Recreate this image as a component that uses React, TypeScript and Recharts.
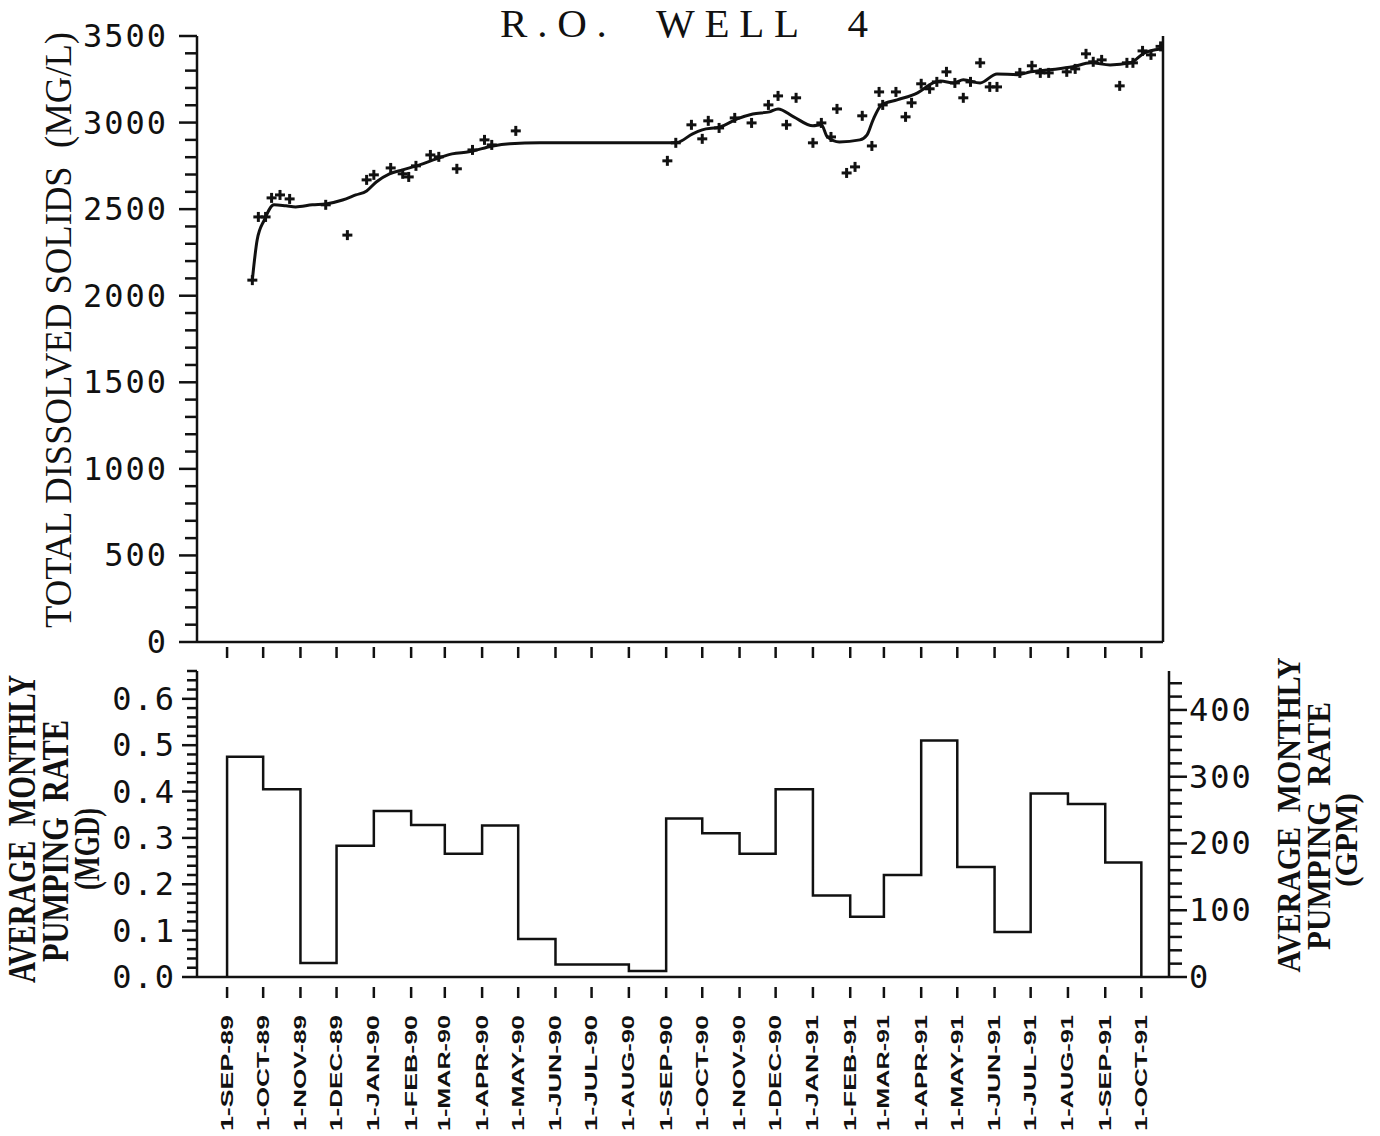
import React from 'react';
import { ComposedChart, Line, Scatter, XAxis, YAxis } from 'recharts';

// ---------- data ----------
const monthTickLabels = [
  '1-SEP-89', '1-OCT-89', '1-NOV-89', '1-DEC-89', '1-JAN-90', '1-FEB-90', '1-MAR-90',
  '1-APR-90', '1-MAY-90', '1-JUN-90', '1-JUL-90', '1-AUG-90', '1-SEP-90', '1-OCT-90',
  '1-NOV-90', '1-DEC-90', '1-JAN-91', '1-FEB-91', '1-MAR-91', '1-APR-91', '1-MAY-91',
  '1-JUN-91', '1-JUL-91', '1-AUG-91', '1-SEP-91', '1-OCT-91',
];

const tdsDates = [
  '1989-09-22', '1989-09-27', '1989-10-03', '1989-10-08', '1989-10-15', '1989-10-23',
  '1989-11-22', '1989-12-10', '1989-12-26', '1990-01-01', '1990-01-15', '1990-01-25',
  '1990-01-30', '1990-02-05', '1990-02-17', '1990-02-24', '1990-03-11', '1990-03-24',
  '1990-04-03', '1990-04-09', '1990-04-29', '1990-09-02', '1990-09-09', '1990-09-22',
  '1990-10-01', '1990-10-06', '1990-10-15', '1990-10-28', '1990-11-11', '1990-11-25',
  '1990-12-03', '1990-12-10', '1990-12-18', '1991-01-01', '1991-01-08', '1991-01-16',
  '1991-01-21', '1991-01-29', '1991-02-05', '1991-02-11', '1991-02-19', '1991-02-25',
  '1991-02-28', '1991-03-11', '1991-03-19', '1991-03-24', '1991-04-01', '1991-04-08',
  '1991-04-14', '1991-04-22', '1991-04-29', '1991-05-06', '1991-05-12', '1991-05-20',
  '1991-05-28', '1991-06-03', '1991-06-22', '1991-07-02', '1991-07-09', '1991-07-16',
  '1991-07-31', '1991-08-07', '1991-08-16', '1991-08-22', '1991-08-29', '1991-09-13',
  '1991-09-19', '1991-09-24', '1991-10-02', '1991-10-09', '1991-10-17',
];
const tdsValues = [
  2090, 2455, 2455, 2565, 2582, 2559,
  2525, 2350, 2669, 2698, 2738, 2704,
  2686, 2750, 2813, 2802, 2733, 2842,
  2900, 2871, 2952, 2779, 2883, 2987,
  2906, 3010, 2969, 3027, 2998, 3102,
  3154, 2987, 3143, 2883, 2998, 2917,
  3079, 2709, 2744, 3039, 2865, 3177,
  3102, 3177, 3033, 3114, 3224, 3195,
  3235, 3293, 3229, 3143, 3235, 3345,
  3206, 3206, 3287, 3328, 3287, 3287,
  3293, 3310, 3397, 3351, 3362, 3212,
  3345, 3345, 3414, 3391, 3440,
];

const trendDates = [
  '1989-09-22', '1989-09-26', '1989-10-02', '1989-10-10', '1989-10-20', '1989-10-28',
  '1989-11-11', '1989-11-22', '1989-12-06', '1989-12-17', '1989-12-26', '1990-01-03',
  '1990-01-14', '1990-01-25', '1990-02-08', '1990-02-22', '1990-03-07', '1990-03-21',
  '1990-04-10', '1990-04-24', '1990-05-19', '1990-09-01', '1990-09-10', '1990-09-23',
  '1990-10-01', '1990-10-16', '1990-10-30', '1990-11-12', '1990-11-26', '1990-12-03',
  '1990-12-16', '1991-01-01', '1991-01-08', '1991-01-13', '1991-01-23', '1991-02-09',
  '1991-02-15', '1991-02-20', '1991-02-27', '1991-03-12', '1991-03-29', '1991-04-11',
  '1991-04-17', '1991-04-28', '1991-05-06', '1991-05-20', '1991-06-03', '1991-06-20',
  '1991-07-01', '1991-07-17', '1991-08-05', '1991-08-20', '1991-09-05', '1991-09-22',
  '1991-10-03', '1991-10-17',
];
const trendValues = [
  2091, 2322, 2438, 2525, 2519, 2513,
  2525, 2530, 2553, 2582, 2605, 2657,
  2704, 2727, 2756, 2790, 2819, 2831,
  2865, 2877, 2883, 2883, 2885, 2935,
  2958, 2975, 3021, 3050, 3062, 3079,
  3033, 2981, 2987, 2917, 2888, 2900,
  2929, 3016, 3102, 3131, 3172, 3229,
  3240, 3229, 3247, 3229, 3281, 3276,
  3293, 3305, 3322, 3345, 3333, 3345,
  3400, 3425,
];

const pumpMonths = monthTickLabels.slice(0, 25);
const pumpMGD = [
  0.475, 0.405, 0.03, 0.283, 0.358, 0.328, 0.266, 0.327, 0.082, 0.027, 0.027, 0.013,
  0.342, 0.31, 0.266, 0.405, 0.176, 0.13, 0.22, 0.51, 0.237, 0.097, 0.396, 0.373, 0.247,
];

const tdsMajorTicks = [0, 500, 1000, 1500, 2000, 2500, 3000, 3500];
const mgdMajorTicks = [0, 0.1, 0.2, 0.3, 0.4, 0.5, 0.6];
const gpmMajorTicks = [0, 100, 200, 300, 400];

// ---------- helpers ----------
const MONTHS: Record<string, number> = {
  JAN: 0, FEB: 1, MAR: 2, APR: 3, MAY: 4, JUN: 5, JUL: 6, AUG: 7, SEP: 8, OCT: 9, NOV: 10, DEC: 11,
};
const ORIGIN = Date.UTC(1989, 8, 1);
const DAY = 86400000;
const dayOfIso = (s: string) => {
  const [y, m, d] = s.split('-').map(Number);
  return (Date.UTC(y, m - 1, d) - ORIGIN) / DAY;
};
const dayOfLabel = (s: string) => {
  const [d, m, y] = s.split('-');
  return (Date.UTC(1900 + Number(y), MONTHS[m], Number(d)) - ORIGIN) / DAY;
};

const tickDays = monthTickLabels.map(dayOfLabel);
const labelByDay: Record<number, string> = {};
monthTickLabels.forEach((l, i) => { labelByDay[tickDays[i]] = l; });

const tdsData = tdsDates.map((d, i) => ({ x: dayOfIso(d), tds: tdsValues[i] }));
const trendData = trendDates.map((d, i) => ({ x: dayOfIso(d), tds: trendValues[i] }));
const pumpData = [
  { x: dayOfLabel(pumpMonths[0]), mgd: 0 },
  ...pumpMonths.map((m, i) => ({ x: dayOfLabel(m), mgd: pumpMGD[i] })),
  { x: dayOfLabel(monthTickLabels[monthTickLabels.length - 1]), mgd: 0 },
];

const subdivide = (majors: number[], parts: number, decimals: number) => {
  const out: number[] = [];
  for (let i = 0; i < majors.length - 1; i++) {
    const step = (majors[i + 1] - majors[i]) / parts;
    for (let k = 0; k < parts; k++) out.push(Number((majors[i] + k * step).toFixed(decimals)));
  }
  out.push(majors[majors.length - 1]);
  return out;
};
const tdsTicks = subdivide(tdsMajorTicks, 5, 0);
const mgdTicks = [...subdivide(mgdMajorTicks, 5, 2), 0.62, 0.64, 0.66];
const gpmTicks = [...subdivide(gpmMajorTicks, 5, 0), 420, 440];

const isMajor = (v: number, list: number[]) => list.some((m) => Math.abs(m - v) < 1e-6);

// ---------- styles ----------
const INK = '#111';
const NUM_FONT = '"DejaVu Sans Mono", "Liberation Mono", monospace';
const SERIF = '"Liberation Serif", "DejaVu Serif", serif';
const SANS = '"Liberation Sans", Arial, sans-serif';
const AX = { stroke: INK, strokeWidth: 2.5 };

const LEFT_X = 197;
const TOP_RIGHT_X = 1163;
const BOT_RIGHT_X = 1169;
const DOMAIN_START = -25;

// ---------- ticks ----------
const TopXTick = (p: any) => (
  <line x1={p.x} x2={p.x} y1={647} y2={658} stroke={INK} strokeWidth={2.5} />
);
const BottomXTick = (p: any) => {
  const label = labelByDay[p.payload.value];
  const yStart = 491;
  return (
    <g>
      <line x1={p.x} x2={p.x} y1={347} y2={358} stroke={INK} strokeWidth={2.5} />
      <text
        x={p.x}
        y={yStart}
        transform={`rotate(-90 ${p.x} ${yStart})`}
        textAnchor="start"
        dominantBaseline="central"
        fontFamily={SANS}
        fontWeight={700}
        fontSize={17}
        textLength={116}
        lengthAdjust="spacingAndGlyphs"
        fill={INK}
      >
        {label}
      </text>
    </g>
  );
};

const makeYTick = (
  axisX: number,
  dir: -1 | 1,
  majors: number[],
  majorLen: number,
  minorLen: number,
  labelX: number,
  fmt: (v: number) => string,
) => (p: any) => {
  const v = p.payload.value;
  const major = isMajor(v, majors);
  const len = major ? majorLen : minorLen;
  return (
    <g>
      <line x1={axisX} x2={axisX + dir * len} y1={p.y} y2={p.y} stroke={INK} strokeWidth={2.5} />
      {major && (
        <text
          x={labelX}
          y={p.y}
          textAnchor={dir < 0 ? 'end' : 'start'}
          dominantBaseline="central"
          fontFamily={NUM_FONT}
          fontSize={32}
          letterSpacing={2}
          fill={INK}
        >
          {fmt(v)}
        </text>
      )}
    </g>
  );
};

const TdsLeftTick = makeYTick(LEFT_X, -1, tdsMajorTicks, 18, 12, 168, (v) => String(v));
const TdsRightTick = makeYTick(TOP_RIGHT_X, 1, tdsMajorTicks, 16, 12, 1180, (v) => String(v));
const MgdTick = makeYTick(LEFT_X, -1, mgdMajorTicks, 15, 10, 176, (v) => v.toFixed(1));
const GpmTick = makeYTick(BOT_RIGHT_X, 1, gpmMajorTicks, 18, 13, 1189, (v) => String(v));

const PlusShape = (p: any) => {
  const { cx, cy } = p;
  if (cx == null || cy == null) return <g />;
  const r = 5;
  return (
    <g>
      <line x1={cx - r} x2={cx + r} y1={cy} y2={cy} stroke={INK} strokeWidth={3} />
      <line x1={cx} x2={cx} y1={cy - r} y2={cy + r} stroke={INK} strokeWidth={3} />
    </g>
  );
};

const RotLabel = (props: {
  cx: number; cy: number; size: number; len: number; text: string; weight?: number;
}) => (
  <text
    x={props.cx}
    y={props.cy}
    transform={`rotate(-90 ${props.cx} ${props.cy})`}
    textAnchor="middle"
    dominantBaseline="central"
    fontFamily={SERIF}
    fontWeight={props.weight ?? 400}
    fontSize={props.size}
    textLength={props.len}
    lengthAdjust="spacingAndGlyphs"
    fill={INK}
    style={{ whiteSpace: 'pre' }}
  >
    {props.text}
  </text>
);

export default function App() {
  return (
    <div style={{ position: 'absolute', left: 0, top: 0, width: 1380, height: 1136, background: '#fff', overflow: 'hidden' }}>
      {/* Top panel: TDS */}
      <div style={{ position: 'absolute', left: 0, top: 0 }}>
        <ComposedChart width={1380} height={700} margin={{ top: 36, right: 0, bottom: 0, left: 0 }}>
          <XAxis
            type="number"
            dataKey="x"
            domain={[DOMAIN_START, 778]}
            allowDataOverflow
            ticks={tickDays}
            interval={0}
            tickLine={false}
            tickSize={0}
            tickMargin={0}
            height={58}
            axisLine={AX}
            tick={TopXTick}
          />
          <YAxis
            yAxisId="left"
            type="number"
            domain={[0, 3500]}
            ticks={tdsTicks}
            interval={0}
            width={LEFT_X}
            tickLine={false}
            tickSize={0}
            axisLine={AX}
            tick={TdsLeftTick}
          />
          <YAxis
            yAxisId="right"
            orientation="right"
            type="number"
            domain={[0, 3500]}
            ticks={tdsTicks}
            interval={0}
            width={1380 - TOP_RIGHT_X}
            tickLine={false}
            tickSize={0}
            axisLine={AX}
            tick={TdsRightTick}
          />
          <Line
            yAxisId="left"
            data={trendData}
            dataKey="tds"
            type="monotone"
            stroke={INK}
            strokeWidth={3}
            dot={false}
            isAnimationActive={false}
          />
          <Scatter
            yAxisId="left"
            data={tdsData}
            dataKey="tds"
            shape={PlusShape}
            isAnimationActive={false}
          />
        </ComposedChart>
      </div>

      {/* Bottom panel: pumping rate */}
      <div style={{ position: 'absolute', left: 0, top: 640 }}>
        <ComposedChart width={1380} height={496} margin={{ top: 31, right: 0, bottom: 0, left: 0 }}>
          <XAxis
            type="number"
            dataKey="x"
            domain={[DOMAIN_START, 783]}
            allowDataOverflow
            ticks={tickDays}
            interval={0}
            tickLine={false}
            tickSize={0}
            tickMargin={0}
            height={159}
            axisLine={AX}
            tick={BottomXTick}
          />
          <YAxis
            yAxisId="mgd"
            type="number"
            domain={[0, 0.66]}
            ticks={mgdTicks}
            interval={0}
            width={LEFT_X}
            tickLine={false}
            tickSize={0}
            axisLine={AX}
            tick={MgdTick}
          />
          <YAxis
            yAxisId="gpm"
            orientation="right"
            type="number"
            domain={[0, 0.66 * 694.444]}
            allowDataOverflow
            ticks={gpmTicks}
            interval={0}
            width={1380 - BOT_RIGHT_X}
            tickLine={false}
            tickSize={0}
            axisLine={AX}
            tick={GpmTick}
          />
          <Line
            yAxisId="mgd"
            data={pumpData}
            dataKey="mgd"
            type="stepAfter"
            stroke={INK}
            strokeWidth={2.5}
            dot={false}
            isAnimationActive={false}
          />
        </ComposedChart>
      </div>

      {/* Titles and axis captions */}
      <svg width={1380} height={1136} style={{ position: 'absolute', left: 0, top: 0, pointerEvents: 'none' }}>
        <text
          x={500}
          y={37}
          fontFamily={SERIF}
          fontSize={41}
          textLength={368}
          lengthAdjust="spacing"
          fill={INK}
          style={{ whiteSpace: 'pre' }}
        >
          {'R.O.  WELL  4'}
        </text>
        <RotLabel cx={58} cy={330} size={37} len={596} text={'TOTAL DISSOLVED SOLIDS  (MG/L)'} />
        <RotLabel cx={21} cy={829} size={40} len={308} text={'AVERAGE  MONTHLY'} weight={700} />
        <RotLabel cx={55} cy={841} size={38} len={242} text={'PUMPING  RATE'} weight={700} />
        <RotLabel cx={87} cy={849} size={36} len={82} text={'(MGD)'} weight={700} />
        <RotLabel cx={1288} cy={815} size={34} len={315} text={'AVERAGE  MONTHLY'} weight={700} />
        <RotLabel cx={1318} cy={826} size={34} len={248} text={'PUMPING  RATE'} weight={700} />
        <RotLabel cx={1346} cy={840} size={32} len={94} text={'(GPM)'} weight={700} />
      </svg>
    </div>
  );
}
